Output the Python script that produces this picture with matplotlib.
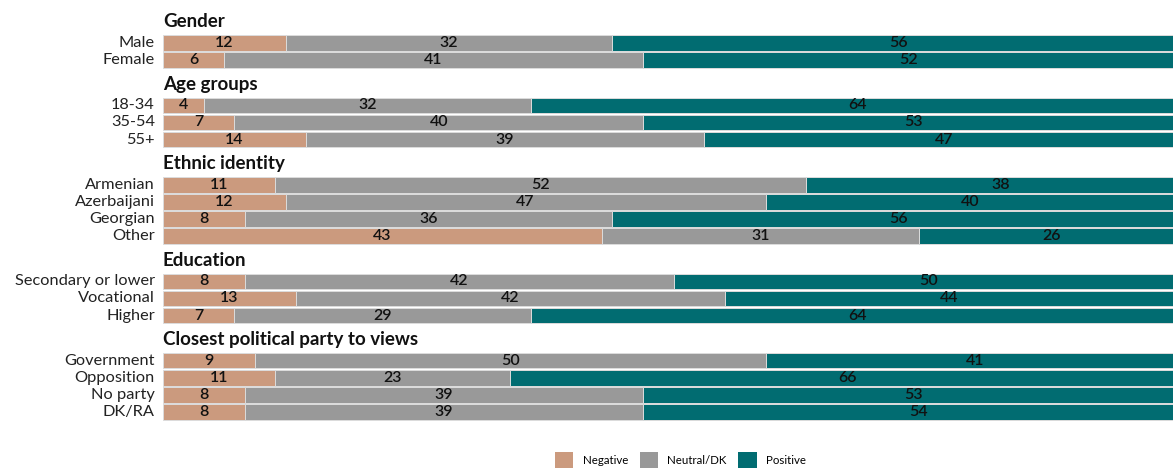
import matplotlib.pyplot as plt
from matplotlib.patches import Patch

plt.rcParams['font.family'] = ['Lato', 'DejaVu Sans']

# survey shares (%) by group
groups = ['Gender', 'Age groups', 'Ethnic identity', 'Education',
          'Closest political party to views']
labels = [
    ['Male', 'Female'],
    ['18-34', '35-54', '55+'],
    ['Armenian', 'Azerbaijani', 'Georgian', 'Other'],
    ['Secondary or lower', 'Vocational', 'Higher'],
    ['Government', 'Opposition', 'No party', 'DK/RA'],
]
negative = [[12, 6], [4, 7, 14], [11, 12, 8, 43], [8, 13, 7], [9, 11, 8, 8]]
neutral = [[32, 41], [32, 40, 39], [52, 47, 36, 31], [42, 42, 29], [50, 23, 39, 39]]
positive = [[56, 52], [64, 53, 47], [38, 40, 56, 26], [50, 44, 64], [41, 66, 53, 54]]

series = ['Negative', 'Neutral/DK', 'Positive']
colors = ['#CB9A7E', '#999999', '#016C71']

fig = plt.figure(figsize=(11.73, 4.68), dpi=100)
ax = fig.add_axes([163 / 1173, 38 / 468, 1010 / 1173, 430 / 468])

pos = 0.0
for g, name in enumerate(groups):
    if g > 0:
        pos += 2.65
    ax.text(0, pos - 1.25, name, fontsize=13.5, fontweight='bold',
            va='center', ha='left', color='#111111')
    for i, lab in enumerate(labels[g]):
        y = pos + i
        vals = [negative[g][i], neutral[g][i], positive[g][i]]
        left = 0
        for v, c in zip(vals, colors):
            ax.barh(y, v, left=left, height=0.9, color=c,
                    edgecolor='#dcdcdc', linewidth=0.7)
            ax.text(left + v / 2, y, str(v), ha='center', va='center',
                    fontsize=11.5, fontweight='semibold', color='#111111')
            left += v
        ax.text(-0.8, y, lab, ha='right', va='center', fontsize=11.8,
                color='#222222')
    pos += len(labels[g]) - 1

ax.set_xlim(0, 98.9)
ax.set_ylim(22.65, -2.52)
ax.axis('off')

handles = [Patch(facecolor=c, label=s) for s, c in zip(series, colors)]
fig.legend(handles=handles, loc='lower center', ncol=3, frameon=False,
           bbox_to_anchor=(0.58, -0.022), fontsize=8.3, handlelength=1.6,
           handleheight=1.7, columnspacing=1.0, handletextpad=0.8)

fig.savefig('out.png', dpi=100)
